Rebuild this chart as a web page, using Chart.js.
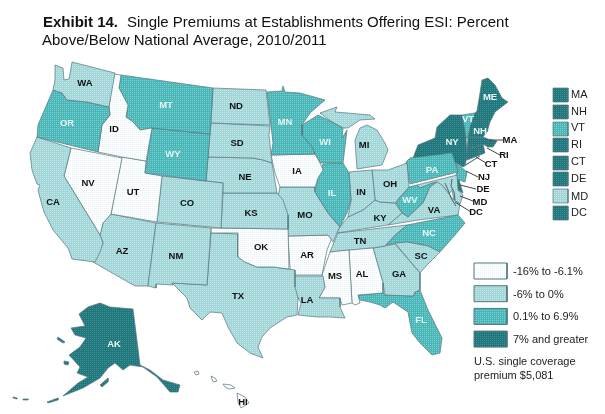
<!DOCTYPE html>
<html>
<head>
<meta charset="utf-8">
<title>Exhibit 14</title>
<script src="https://cdn.jsdelivr.net/npm/chart.js@4/dist/chart.umd.min.js"></script>
<style>
html, body { margin: 0; padding: 0; background: #fff; }
canvas { display: block; }
</style>
</head>
<body>
<canvas id="mapChart" width="605" height="414"></canvas>
<script>
// state outlines in map units
const WA = [[55,65],[63,68],[64,80],[69,79],[71,68],[72,62],[115,73],[109,107],[87,102],[67,100],[62,93],[53,90],[55,80]];
const OR = [[53,90],[62,93],[67,100],[87,102],[109,107],[110,115],[102,125],[98,152],[37,137],[38,125]];
const CA = [[37,137],[71,148],[64,176],[100,235],[103,243],[100,252],[95,262],[72,259],[68,248],[53,230],[44,212],[42,205],[38,190],[40,185],[37,184],[32,170],[30,153]];
const NV = [[71,148],[122,158],[111,214],[103,223],[100,235],[64,176]];
const ID = [[113,74],[121,75],[119,88],[128,105],[126,117],[133,122],[140,130],[152,128],[146,161],[122,157],[98,152],[102,125],[110,115],[109,107]];
const MT = [[121,75],[213,88],[210,134],[152,128],[140,130],[133,122],[126,117],[128,105],[119,88]];
const WY = [[152,128],[210,134],[206,181],[145,173]];
const UT = [[122,157],[146,161],[145,173],[162,176],[157,222],[111,214]];
const CO = [[162,176],[223,183],[221,228],[157,222]];
const NM = [[156,223],[211,228],[207,285],[172,283],[173,285],[156,284],[156,288],[148,286]];
const AZ = [[111,214],[156,223],[148,286],[135,286],[93,262],[97,255],[103,243],[100,235],[103,223]];
const ND = [[213,88],[266,90],[270,125],[211,123]];
const SD = [[211,123],[270,126],[269,135],[272,163],[263,160],[253,158],[208,157]];
const NE = [[208,157],[253,158],[263,160],[272,163],[277,193],[223,193],[223,183],[206,181]];
const KS = [[223,193],[277,193],[283,200],[288,215],[288,229],[221,228]];
const OK = [[211,228],[288,229],[289,269],[273,267],[257,267],[245,262],[238,257],[238,233],[211,233]];
const TX = [[211,233],[238,234],[238,257],[245,262],[257,267],[273,267],[295,270],[295,287],[298,298],[297,315],[287,317],[270,328],[262,337],[258,347],[263,358],[250,353],[237,343],[228,327],[222,313],[210,312],[202,320],[190,308],[187,298],[172,283],[207,285]];
const MN = [[267,92],[282,91],[283,86],[285,92],[300,93],[325,100],[310,113],[302,125],[302,135],[312,147],[315,154],[271,155],[273,143]];
const IA = [[271,155],[315,154],[320,163],[323,170],[318,178],[315,187],[280,187],[275,173]];
const WI = [[302,125],[310,120],[318,115],[332,122],[343,128],[342,138],[347,130],[343,163],[323,163],[320,163],[315,154],[312,147],[302,135]];
const MI_UP = [[320,113],[337,107],[335,112],[347,113],[370,115],[375,119],[360,120],[348,128],[343,128],[332,122]];
const MI_LP = [[355,140],[360,128],[367,125],[377,130],[385,143],[388,150],[382,165],[357,169],[356,155]];
const IL = [[323,164],[343,163],[349,173],[351,200],[347,213],[340,227],[328,213],[315,192],[318,178]];
const IN = [[349,172],[372,170],[375,200],[363,210],[348,217],[351,200]];
const OH = [[372,170],[388,170],[407,163],[409,187],[400,197],[395,203],[380,202],[375,200]];
const KY = [[375,200],[380,202],[395,203],[402,213],[388,225],[337,233],[340,227],[348,217],[363,210]];
const MO = [[280,187],[315,187],[315,192],[328,213],[340,227],[337,233],[333,242],[328,235],[288,236],[288,215],[278,197]];
const AR = [[288,236],[333,235],[327,250],[322,275],[293,275],[290,268]];
const LA = [[294,276],[323,276],[325,287],[319,298],[340,298],[340,307],[345,318],[330,317],[317,317],[298,315],[301,303],[294,290]];
const MS = [[330,252],[349,250],[352,303],[342,305],[340,298],[319,298],[325,287],[322,275]];
const AL = [[349,250],[373,248],[383,283],[383,293],[358,295],[360,303],[355,305],[352,303]];
const TN = [[338,233],[407,225],[395,235],[385,246],[373,248],[330,252]];
const GA = [[373,248],[395,244],[420,273],[420,290],[415,292],[413,296],[385,295],[383,283]];
const SC = [[395,243],[407,242],[428,246],[440,252],[427,265],[420,273]];
const NC = [[385,246],[395,235],[407,225],[458,215],[465,223],[455,235],[440,252],[428,246],[407,242],[395,243]];
const FL = [[358,295],[383,293],[385,295],[413,296],[415,292],[420,290],[428,310],[442,338],[440,353],[432,355],[420,343],[412,333],[410,323],[408,312],[393,302],[385,308],[380,305],[370,302],[360,300]];
const VA = [[388,225],[402,213],[408,217],[423,203],[430,187],[437,182],[442,185],[449,194],[454,200],[460,204],[458,215],[418,220]];
const WV = [[396,203],[400,197],[409,187],[417,185],[420,188],[432,183],[437,182],[430,187],[423,203],[408,217],[402,213]];
const PA = [[406,162],[410,158],[452,153],[455,162],[458,172],[410,184]];
const MD = [[417,185],[457,175],[458,190],[463,195],[460,204],[454,200],[452,190],[449,194],[442,185],[433,188],[428,186],[420,188]];
const DE = [[455,177],[459,180],[463,193],[458,190]];
const DC = [[441,188],[444,187],[445,190],[442,191]];
const NJ = [[455,162],[467,172],[465,182],[459,180],[455,177],[458,170]];
const NY = [[413,158],[418,145],[435,138],[437,127],[450,115],[462,115],[466,138],[467,157],[465,165],[480,156],[463,167],[455,162],[452,153]];
const VT = [[462,115],[475,113],[470,127],[468,138],[466,138]];
const NH = [[475,113],[477,111],[488,130],[483,137],[468,138],[470,127]];
const ME = [[482,80],[488,78],[495,85],[502,98],[508,102],[495,112],[490,122],[487,132],[477,111],[480,93]];
const MA = [[467,149],[468,138],[483,137],[488,139],[497,141],[493,147],[488,147],[483,144],[478,146]];
const CT = [[467,149],[478,146],[480,155],[467,160]];
const RI = [[478,146],[483,144],[485,153],[480,155]];
const AK = [[100,303],[110,307],[133,309],[140,365],[150,370],[163,380],[180,385],[178,392],[170,392],[157,377],[143,367],[130,365],[123,370],[115,363],[108,368],[100,378],[83,388],[63,396],[78,383],[88,377],[77,373],[80,367],[69,355],[80,347],[86,338],[75,335],[71,328],[85,326],[79,314],[88,307]];
const AK_KODIAK = [[100,385],[108,378],[108,382],[102,387]];
const AK_NUNIVAK = [[64,361],[69,362],[68,365],[64,364]];
const AK_STLAWRENCE = [[58,337],[65,342],[63,343],[57,339]];
const AK_ALEUT_A = [[47,402],[58,398],[58,400],[48,403]];
const AK_ALEUT_B = [[13,397],[17,398],[17,399],[13,398]];
const AK_ALEUT_C = [[23,399],[28,399],[28,400],[23,400]];
const HI_BIG = [[237,393],[245,397],[249,403],[241,408],[238,402]];
const HI_MAUI = [[223,384],[231,385],[235,388],[229,389],[225,387]];
const HI_OAHU = [[211,376],[215,378],[217,381],[213,382]];
const HI_KAUAI = [[194,372],[198,371],[199,374],[196,375]];

const stateCodes = ['WA','OR','CA','NV','ID','MT','WY','UT','CO','NM','AZ','ND','SD','NE','KS','OK','TX','MN','IA','WI','MI','MI','IL','IN','OH','KY','MO','AR','LA','MS','AL','TN','GA','SC','NC','FL','VA','WV','PA','MD','DE','DC','NJ','NY','VT','NH','ME','MA','CT','RI','AK','AK','AK','AK','AK','AK','AK','HI','HI','HI','HI'];
const stateShapes = [WA,OR,CA,NV,ID,MT,WY,UT,CO,NM,AZ,ND,SD,NE,KS,OK,TX,MN,IA,WI,MI_UP,MI_LP,IL,IN,OH,KY,MO,AR,LA,MS,AL,TN,GA,SC,NC,FL,VA,WV,PA,MD,DE,DC,NJ,NY,VT,NH,ME,MA,CT,RI,AK,AK_KODIAK,AK_NUNIVAK,AK_STLAWRENCE,AK_ALEUT_A,AK_ALEUT_B,AK_ALEUT_C,HI_BIG,HI_MAUI,HI_OAHU,HI_KAUAI];

// premium class per state: 0 lowest .. 3 highest
const lowestStates = ['NV','ID','UT','OK','AR','IA','MS','AL','HI'];
const belowStates = ['WA','CA','AZ','NM','CO','ND','SD','NE','KS','TX','MO','LA','MI','IN','OH','KY','TN','VA','MD','GA','SC'];
const aboveStates = ['OR','MT','WY','MN','WI','IL','PA','WV','NC','FL','VT','NJ'];
const highestStates = ['ME','NH','NY','MA','CT','RI','DE','DC','AK'];

const classLabels = ['-16% to -6.1%','-6% to 0%','0.1% to 6.9%','7% and greater'];
const smallStates = ['MA','NH','VT','RI','CT','DE','MD','DC'];

// label anchors on the map
const labelCodes = ['WA','OR','CA','NV','ID','MT','WY','UT','AZ','CO','NM','ND','SD','NE','KS','OK','TX','MN','IA','MO','AR','LA','WI','IL','IN','MI','OH','KY','TN','MS','AL','GA','SC','FL','NC','VA','WV','PA','NY','VT','NH','ME','AK','HI','MA','RI','CT','NJ','DE','MD','DC'];
const labelX = [85,67,53,88,114,166,173,133,122,187,176,236,237,245,251,261,238,285,297,305,307,307,325,332,361,364,390,380,360,335,362,399,421,421,429,434,410,432,452,468,480,490,114,243,510,504,491,484,483,480,476];
const labelY = [83,123,202,183,129,105,154,192,251,203,256,106,143,177,213,247,296,122,171,215,255,300,142,193,192,145,184,218,241,276,274,274,256,320,233,210,200,170,142,119,131,97,344,402,140,155,164,177,189,202,212];

// leader lines from the small eastern states to their labels
const leaderStartX = [489,487,476,466,460,460,455];
const leaderStartY = [140,148,157,171,185,196,202];
const leaderEndX = [503,500,486,478,476,473,471];
const leaderEndY = [140,155,163,177,189,201,212];

// Chesapeake shoreline scribbles
const bayWest = [[445,183],[448,190],[451,198],[456,206]];
const bayEast = [[452,179],[451,186],[454,192],[455,200]];

const titleBold = 'Exhibit 14.';
const titleRest = 'Single Premiums at Establishments Offering ESI: Percent';
const titleLine2 = 'Above/Below National Average, 2010/2011';
const noteLines = ['U.S. single coverage','premium $5,081'];

const classColors = ['#ffffff','#a3d6d9','#48b6b7','#20767b'];
const classDots = ['#e4f1f8','#c4e6e8','#7fd0d0','#3e9296'];
const outlineColor = '#55767c';

function ditherPattern(base, dot) {
    const tile = document.createElement('canvas');
    tile.width = 2;
    tile.height = 2;
    const c = tile.getContext('2d');
    c.fillStyle = base;
    c.fillRect(0, 0, 2, 2);
    c.fillStyle = dot;
    c.fillRect(0, 0, 1, 1);
    return c.createPattern(tile, 'repeat');
}
const classFills = classColors.map((col, i) => ditherPattern(col, classDots[i]));

function classOf(code) {
    if (lowestStates.includes(code)) return 0;
    if (belowStates.includes(code)) return 1;
    if (aboveStates.includes(code)) return 2;
    return 3;
}

function shapeDataset(points, cls, width) {
    const data = points.map(p => ({ x: p[0], y: p[1] }));
    data.push(data[0]);
    return {
        data: data,
        showLine: true,
        fill: 'shape',
        tension: 0,
        pointRadius: 0,
        borderColor: outlineColor,
        borderWidth: width,
        backgroundColor: classFills[cls]
    };
}

function lineDataset(points, color, width) {
    return {
        data: points.map(p => ({ x: p[0], y: p[1] })),
        showLine: true,
        tension: 0,
        pointRadius: 0,
        borderColor: color,
        borderWidth: width
    };
}

function boxPoints(left, top, w, h) {
    return [[left, top], [left + w, top], [left + w, top + h], [left, top + h]];
}

const datasets = [];

leaderStartX.forEach((x, i) => {
    datasets.push(lineDataset([[x, leaderStartY[i]], [leaderEndX[i], leaderEndY[i]]], '#444444', 1));
});
datasets.push(lineDataset(bayWest, '#44666c', 1));
datasets.push(lineDataset(bayEast, '#44666c', 1));

stateShapes.forEach((shape, i) => {
    datasets.push(shapeDataset(shape, classOf(stateCodes[i]), 0.7));
});

// legend boxes go through the same scales as the map
smallStates.forEach((code, i) => {
    const top = [88,105,122,138,156,172,189,206][i];
    datasets.push(shapeDataset(boxPoints(553, top, 15, 14), classOf(code), 0.7));
});
classLabels.forEach((label, i) => {
    datasets.push(shapeDataset(boxPoints(474, 263 + i * 22.7, 33, 16), i, 1));
});

const textPlugin = {
    id: 'mapText',
    afterDatasetsDraw(chart) {
        const ctx = chart.ctx;
        const xs = chart.scales.x;
        const ys = chart.scales.y;
        ctx.save();
        ctx.textBaseline = 'alphabetic';
        ctx.textAlign = 'left';
        ctx.fillStyle = '#111111';

        ctx.font = 'bold 15px "Liberation Sans"';
        ctx.fillText(titleBold, 43, 27);
        ctx.font = '15px "Liberation Sans"';
        ctx.fillText(titleRest, 127, 27);
        ctx.fillText(titleLine2, 42, 45);

        ctx.font = '11px "Liberation Sans"';
        ctx.fillStyle = '#222222';
        smallStates.forEach((code, i) => {
            ctx.fillText(code, 571, [98,115,131,148,165,182,200,216][i]);
        });
        classLabels.forEach((label, i) => {
            ctx.fillText(label, 513, 275 + i * 22.7);
        });
        noteLines.forEach((line, i) => {
            ctx.fillText(line, 474, 365 + i * 14);
        });

        ctx.font = 'bold 9.5px "Liberation Sans"';
        ctx.textAlign = 'center';
        ctx.textBaseline = 'middle';
        labelCodes.forEach((code, i) => {
            const onMap = i < 44;
            const cls = classOf(code);
            ctx.fillStyle = onMap && cls >= 2 ? '#e8f6f6' : '#111111';
            ctx.fillText(code, xs.getPixelForValue(labelX[i]), ys.getPixelForValue(labelY[i]));
        });
        ctx.restore();
    }
};

new Chart(document.getElementById('mapChart'), {
    type: 'scatter',
    data: { datasets: datasets },
    options: {
        responsive: false,
        animation: false,
        devicePixelRatio: 1,
        layout: { padding: 0 },
        plugins: { legend: { display: false }, tooltip: { enabled: false }, title: { display: false } },
        scales: {
            x: { type: 'linear', min: 0, max: 605, display: false },
            y: { type: 'linear', min: 0, max: 414, reverse: true, display: false }
        }
    },
    plugins: [textPlugin]
});
</script>
</body>
</html>
